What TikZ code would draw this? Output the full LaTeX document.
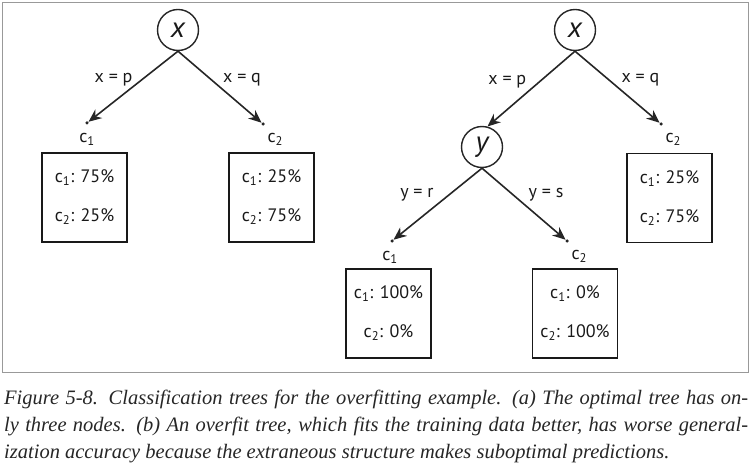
\documentclass[tikz,border=0pt]{standalone}
\usepackage{fontspec}
\setmainfont{Liberation Serif}
\setsansfont{PT Sans}
\usepackage{tikz}
\usetikzlibrary{arrows.meta,positioning}

\begin{document}
\begin{tikzpicture}[x=1pt,y=1pt,
  font=\sffamily\fontsize{18}{20}\selectfont,
  kreis/.style={draw=black!85,circle,line width=1.4pt,minimum size=41pt,inner sep=0pt,text=black!90,font=\sffamily\itshape\fontsize{29}{29}\selectfont},
  blatt/.style={draw=black!90,line width=1.6pt,minimum width=85pt,minimum height=89pt,align=center,inner sep=0pt,text=black!90},
  punkt/.style={circle,fill=black!85,inner sep=0pt,minimum size=3.5pt},
  pfeil/.style={draw=black!85,line width=1.6pt,-{Stealth[length=13pt,width=11pt]}},
  klasse/.style={inner sep=1pt,text=black!90},
  kante/.style={inner sep=1pt,text=black!90}]
\useasboundingbox (0,0) rectangle (754,466);
%Rahmen um beide Baeume
\draw[black!40,line width=0.8pt] (2,464) rectangle (748,94);
%Baum (a)
\node[kreis] (xa) at (178,436) {x};
\node[punkt] (ca1) at (87,343) {};
\node[punkt] (ca2) at (263,342) {};
\draw[pfeil] (xa.south) --node[kante,pos=.4,left=8pt] {x = p} (ca1);
\draw[pfeil] (xa.south) --node[kante,pos=.4,right=10pt] {x = q} (ca2);
\node[klasse,below=7pt of ca1] (la1) {c\textsubscript{1}};
\node[klasse,below right=7pt and 2pt of ca2] (la2) {c\textsubscript{2}};
\node[blatt] (ba1) at (84.5,268.5) {c\textsubscript{1}: 75\%\\[19pt]c\textsubscript{2}: 25\%};
\node[blatt] (ba2) at (271.5,268.5) {c\textsubscript{1}: 25\%\\[19pt]c\textsubscript{2}: 75\%};
%Baum (b)
\node[kreis] (xb) at (575,436) {x};
\node[kreis] (yb) at (482,319) {y};
\node[punkt] (cb2) at (661,342) {};
\draw[pfeil] (xb.south) --node[kante,pos=.4,left=12pt] {x = p} (yb.75);
\draw[pfeil] (xb.south) --node[kante,pos=.4,right=11pt] {x = q} (cb2);
\node[klasse,below right=7pt and 2pt of cb2] (lb2) {c\textsubscript{2}};
\node[blatt] (bb2) at (669.5,268) {c\textsubscript{1}: 25\%\\[19pt]c\textsubscript{2}: 75\%};
\node[punkt] (cy1) at (392,225) {};
\node[punkt] (cy2) at (567,225) {};
\draw[pfeil] (yb.south) --node[kante,pos=.37,left=14pt] {y = r} (cy1);
\draw[pfeil] (yb.south) --node[kante,pos=.37,right=14pt] {y = s} (cy2);
\node[klasse,below=7pt of cy1,xshift=-2pt] (ly1) {c\textsubscript{1}};
\node[klasse,below right=7pt and 2pt of cy2] (ly2) {c\textsubscript{2}};
\node[blatt] (by1) at (388.5,152.5) {c\textsubscript{1}: 100\%\\[19pt]c\textsubscript{2}: 0\%};
\node[blatt] (by2) at (575,152.5) {c\textsubscript{1}: 0\%\\[19pt]c\textsubscript{2}: 100\%};
%Bildunterschrift
\foreach \zeile/\text [count=\i] in {
  {Figure 5-8. Classification trees for the overfitting example. (a) The optimal tree has on-}/1,
  {ly three nodes. (b) An overfit tree, which fits the training data better, has worse general-}/1,
  {ization accuracy because the extraneous structure makes suboptimal predictions.}/0}{
  \ifnum\text=1
    \node[anchor=base west,inner sep=0pt,text=black!85,font=\rmfamily\itshape\fontsize{20.5}{27}\selectfont] (cap\i) at (4,89-27*\i) {\hbox to 744pt{\zeile}};
  \else
    \node[anchor=base west,inner sep=0pt,text=black!85,font=\rmfamily\itshape\fontsize{20.5}{27}\selectfont] (cap\i) at (4,89-27*\i) {\zeile};
  \fi
}
\end{tikzpicture}
\end{document}
